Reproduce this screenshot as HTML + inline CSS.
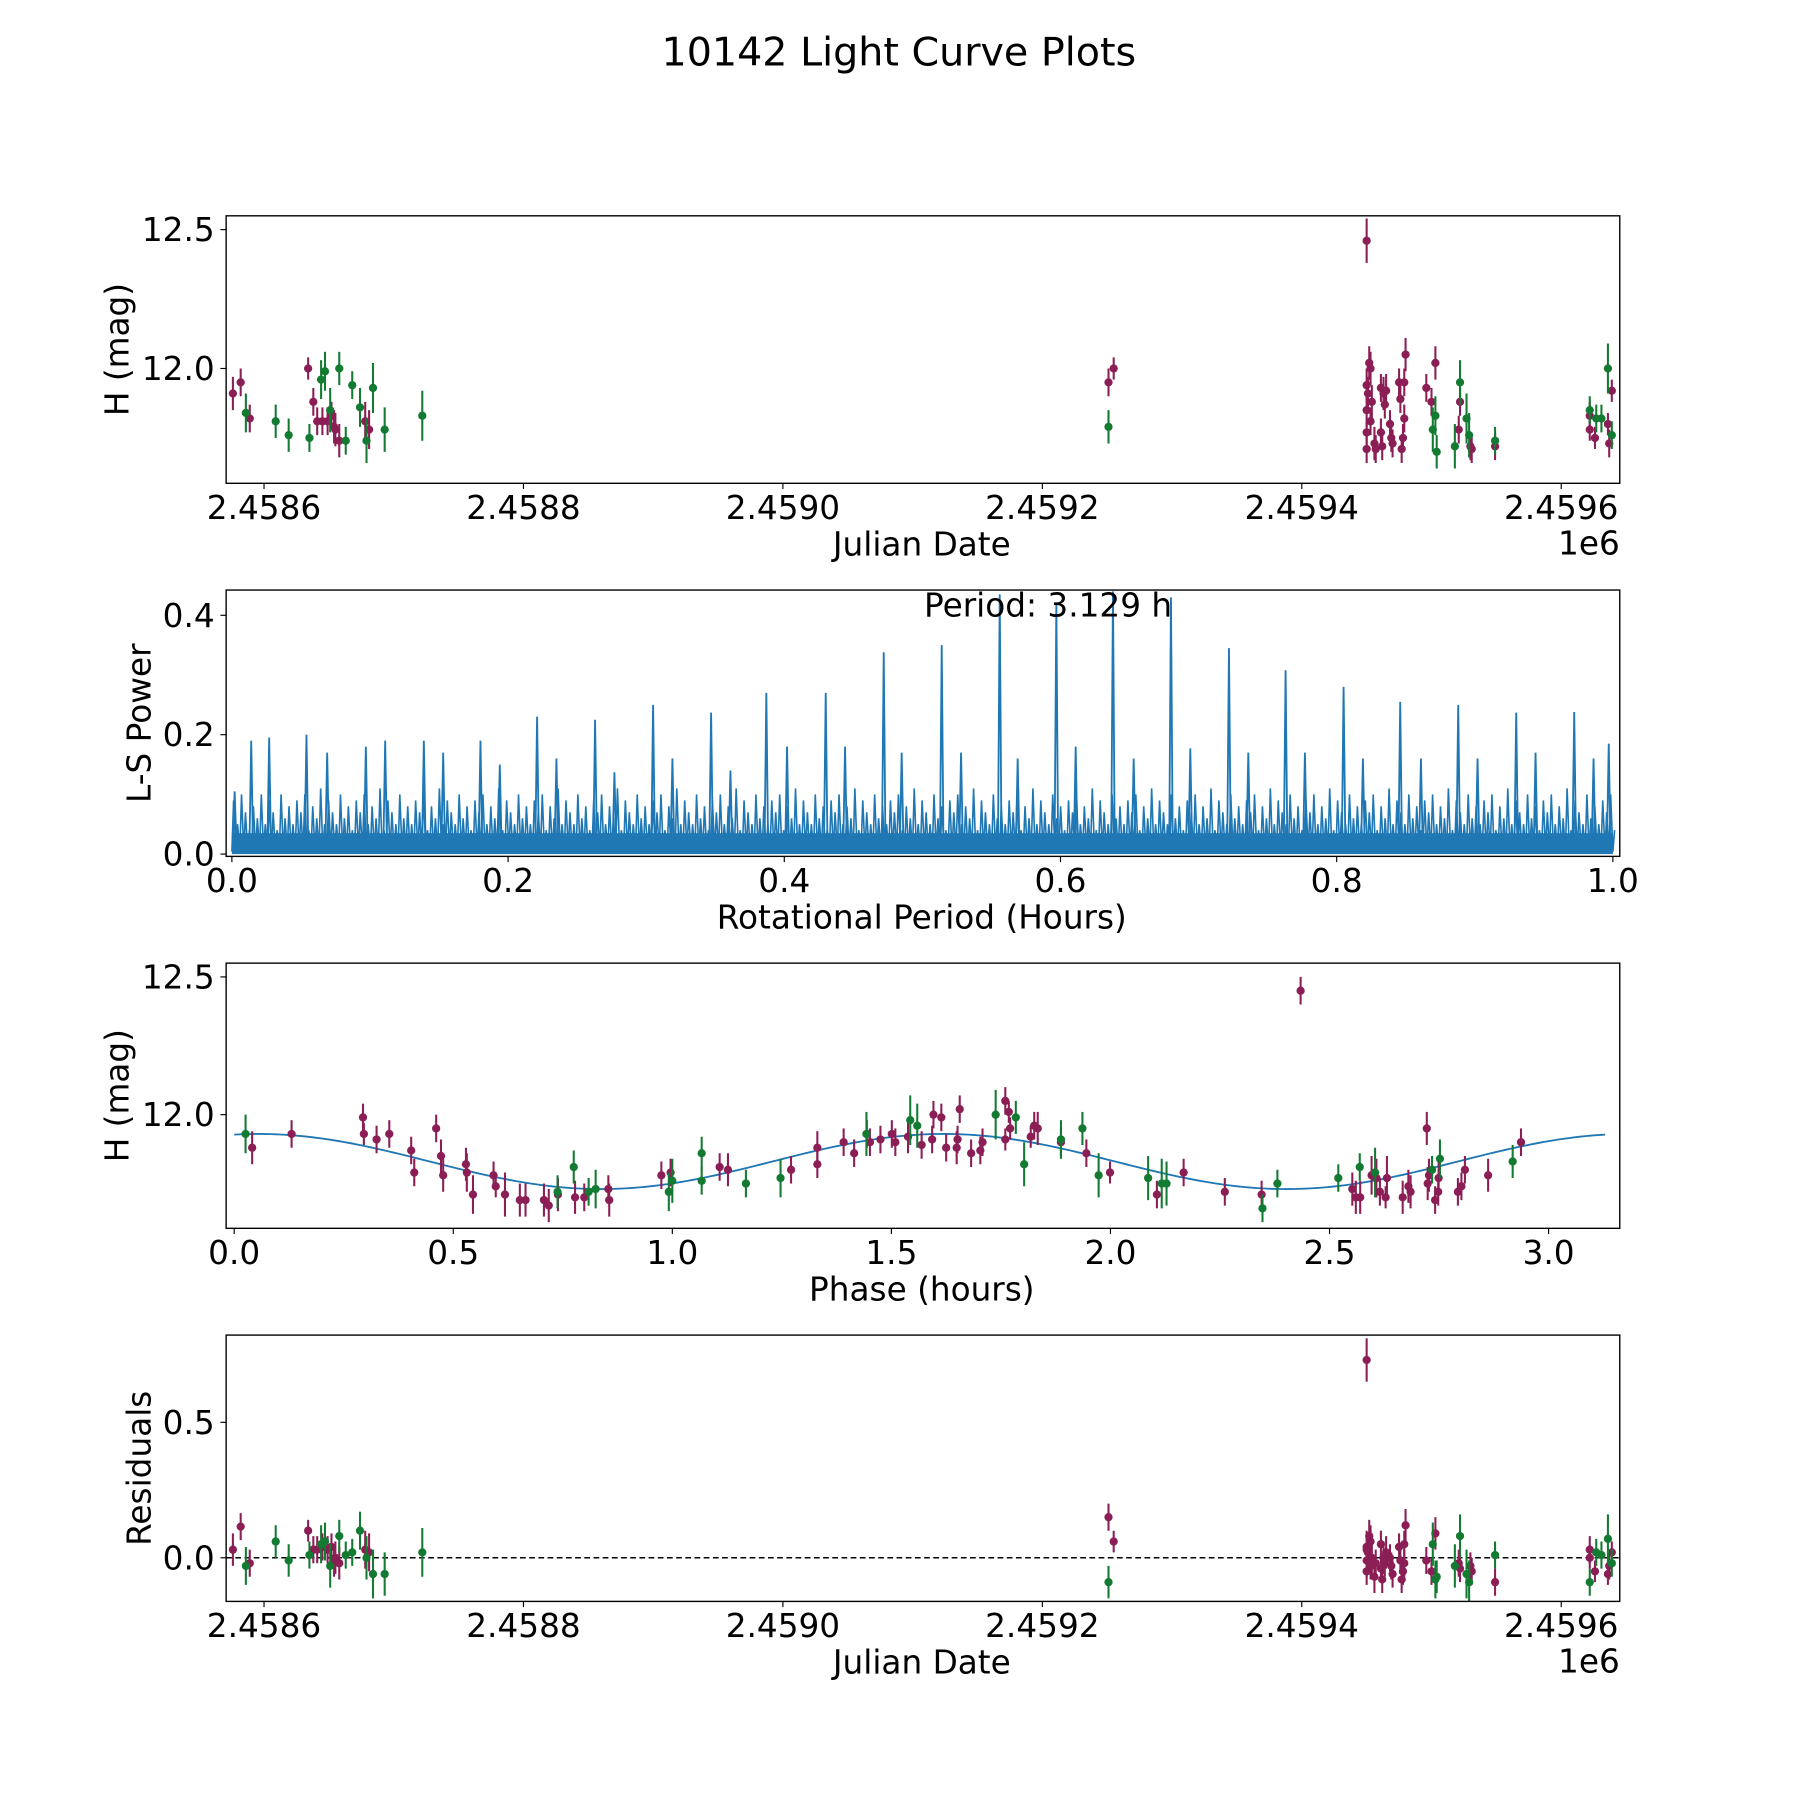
<!DOCTYPE html>
<html><head><meta charset="utf-8"><style>
html,body{margin:0;padding:0;background:#fff;}
svg{display:block;font-family:"DejaVu Sans","Liberation Sans",sans-serif;}
</style></head><body>
<svg id="fig" width="1800" height="1800" viewBox="0 0 1568 1568" xmlns="http://www.w3.org/2000/svg">
<rect width="1568" height="1568" fill="#fff"/>
<text x="783" y="57" font-size="34.5" text-anchor="middle">10142 Light Curve Plots</text>
<g id="g1"></g>
<g id="g2"></g>
<g id="g3"></g>
<g id="g4"></g>
</svg>
<script>
const MAROON="#8a1e55", GREEN="#137a32", BLUE="#1f77b4";
// ---- Panel 1 data: JD offsets (days from 2458600) and mag
const p1Maroon=[[-24,11.91],[-18,11.95],[-11,11.82],[34,12.0],[38,11.88],[41,11.81],[45,11.81],[49,11.81],[52,11.83],[54,11.79],[55,11.78],[58,11.74],[78,11.81],[81,11.78],[651,11.95],[655,12.0],
[850,12.46],[852,12.02],[853,12.0],[850,11.94],[851,11.91],[854,11.88],[850,11.85],[853,11.81],[850,11.77],[856,11.73],[850,11.71],[857,11.71],[861,11.93],[863,11.91],[861,11.77],[862,11.72],[865,11.92],[864,11.87],[869,11.75],[870,11.73],[868,11.8],[875,11.95],[876,11.89],[879,11.95],[880,12.05],[878,11.75],[877,11.71],[879,11.82],[896,11.93],[900,11.88],[903,12.02],[921,11.78],[922,11.88],[931,11.71],[930,11.72],[949,11.72],[1022,11.83],[1022,11.78],[1026,11.75],[1036,11.8],[1039,11.92],[1037,11.73]];
const p1Green=[[-14,11.84],[9,11.81],[19,11.76],[35,11.75],[44,11.96],[47,11.99],[51,11.85],[58,12.0],[63,11.74],[68,11.94],[74,11.86],[79,11.74],[84,11.93],[93,11.78],[122,11.83],[651,11.79],[901,11.78],[903,11.83],[904,11.7],[918,11.72],[922,11.95],[927,11.82],[929,11.76],[949,11.74],[1022,11.85],[1027,11.82],[1031,11.82],[1036,12.0],[1039,11.76]];
const p1MErr=[0.06,0.05,0.05,0.04,0.05,0.05,0.05,0.05,0.05,0.06,0.06,0.06,0.07,0.07,0.05,0.04,0.08,0.06,0.06,0.06,0.06,0.06,0.06,0.05,0.05,0.06,0.05,0.05,0.05,0.06,0.05,0.05,0.06,0.05,0.05,0.05,0.05,0.05,0.05,0.05,0.06,0.05,0.05,0.05,0.05,0.05,0.06,0.05,0.05,0.05,0.05,0.05,0.05,0.04,0.04,0.04,0.04,0.05];
const p1GErr=[0.07,0.06,0.06,0.05,0.07,0.07,0.08,0.06,0.05,0.05,0.07,0.08,0.09,0.08,0.09,0.06,0.08,0.07,0.06,0.08,0.08,0.09,0.08,0.05,0.05,0.05,0.05,0.09,0.05];
// ---- Panel 2: periodogram
const lsPeakPeriods=[0.002,0.014,0.027,0.054,0.069,0.097,0.111,0.139,0.153,0.180,0.194,0.221,0.235,0.263,0.277,0.305,0.319,0.347,0.361,0.387,0.402,0.430,0.444,0.472,0.485,0.514,0.528,0.556,0.569,0.597,0.611,0.638,0.653,0.680,0.694,0.722,0.736,0.763,0.777,0.805,0.819,0.846,0.861,0.888,0.902,0.930,0.944,0.972,0.986,0.997];
const lsPeakPowers=[0.105,0.19,0.195,0.2,0.17,0.18,0.19,0.19,0.17,0.19,0.15,0.23,0.16,0.225,0.137,0.25,0.16,0.237,0.14,0.27,0.18,0.27,0.18,0.338,0.17,0.35,0.17,0.435,0.16,0.42,0.18,0.44,0.16,0.43,0.177,0.345,0.17,0.308,0.17,0.28,0.16,0.255,0.16,0.25,0.16,0.237,0.17,0.238,0.16,0.185];
const lsNoise=[0.09,0.05,0.1,0.07,0.04,0.08,0.06,0.1,0.05,0.09,0.07,0.04,0.1,0.06,0.08,0.05,0.09,0.07,0.1,0.04,0.08,0.06,0.11,0.05,0.09,0.07,0.05,0.1,0.06,0.08,0.04,0.09,0.07,0.1,0.05,0.08,0.06,0.11,0.04,0.09,0.07,0.05,0.1,0.06,0.08,0.05,0.09,0.07,0.1,0.04,
0.08,0.06,0.11,0.05,0.09,0.07,0.05,0.1,0.06,0.08,0.04,0.09,0.07,0.1,0.05,0.08,0.06,0.11,0.04,0.09,0.07,0.05,0.1,0.06,0.08,0.05,0.09,0.07,0.1,0.04,0.08,0.06,0.11,0.05,0.09,0.07,0.05,0.1,0.06,0.08,0.04,0.09,0.07,0.1,0.05,0.08,0.06,0.11,0.04,0.09,
0.07,0.05,0.1,0.06,0.08,0.05,0.09,0.07,0.1,0.04,0.08,0.06,0.11,0.05,0.09,0.07,0.05,0.1,0.06,0.08,0.04,0.09,0.07,0.1,0.05,0.08,0.06,0.11,0.04,0.09,0.07,0.05,0.1,0.06,0.08,0.05,0.09,0.07,0.1,0.04,0.08,0.06,0.11,0.05,0.09,0.07,0.05,0.1,0.06,0.08,
0.04,0.09,0.07,0.1,0.05,0.08,0.06,0.11,0.04,0.09,0.07,0.05,0.1,0.06,0.08,0.05,0.09,0.07,0.1,0.04,0.08,0.06,0.11,0.05,0.09,0.07,0.05,0.1,0.06,0.08,0.04,0.09,0.07,0.1,0.05,0.08,0.06,0.11,0.04,0.09,0.07,0.05,0.1,0.06,0.08,0.05,0.09,0.07,0.1,0.04,
0.08,0.06,0.11,0.05,0.09,0.07,0.05,0.1,0.06,0.08,0.04,0.09,0.07,0.1,0.05,0.08,0.06,0.11,0.04,0.09,0.07,0.05,0.1,0.06,0.08,0.05,0.09,0.07,0.1,0.04,0.08,0.06,0.11,0.05,0.09,0.07,0.05,0.1,0.06,0.08,0.04,0.09,0.07,0.1,0.05,0.08,0.06,0.11,0.04,0.09,
0.07,0.05,0.1,0.06,0.08,0.05,0.09,0.07,0.1,0.04,0.08,0.06,0.11,0.05,0.09,0.07,0.05,0.1,0.06,0.08,0.04,0.09,0.07,0.1,0.05,0.08,0.06,0.11,0.04,0.09,0.07,0.05,0.1,0.06,0.08,0.05,0.09,0.07,0.1,0.04,0.08,0.06,0.11,0.05,0.09,0.07,0.05,0.1,0.06,0.08,
0.04,0.09,0.07,0.1,0.05,0.08,0.06,0.11,0.04,0.09,0.07,0.05,0.1,0.06,0.08,0.05,0.09,0.07,0.1,0.04,0.08,0.06,0.11,0.05,0.09,0.07,0.05,0.1,0.06,0.08,0.04,0.09,0.07,0.1,0.05,0.08,0.06,0.11,0.04,0.09,0.07,0.05,0.1,0.06,0.08,0.05,0.09,0.07,0.1,0.04];
// ---- Panel 3: phase-folded
const p3Maroon=[[0.041,11.88],[0.131,11.93],[0.294,11.99],[0.296,11.93],[0.325,11.91],[0.354,11.93],[0.404,11.87],[0.411,11.79],[0.461,11.95],[0.472,11.85],[0.477,11.78],[0.529,11.82],[0.531,11.79],[0.545,11.71],[0.592,11.78],[0.597,11.74],[0.618,11.71],[0.652,11.69],[0.665,11.69],[0.707,11.69],[0.718,11.67],[0.739,11.71],[0.778,11.70],[0.799,11.70],[0.854,11.73],[0.856,11.69],[0.975,11.78],[0.996,11.79],[1.108,11.81],[1.127,11.80],[1.271,11.80],[1.331,11.82],[1.331,11.88],[1.391,11.90],[1.415,11.86],[1.444,11.93],[1.451,11.90],[1.475,11.91],[1.501,11.93],[1.509,11.90],[1.538,11.92],[1.569,11.89],[1.593,11.91],[1.596,12.0],[1.614,11.99],[1.625,11.88],[1.649,11.88],[1.651,11.91],[1.656,12.02],[1.682,11.86],[1.703,11.87],[1.708,11.90],[1.760,12.05],[1.760,11.91],[1.768,12.01],[1.771,11.95],[1.818,11.92],[1.826,11.96],[1.834,11.95],[1.887,11.90],[1.945,11.86],[1.999,11.79],[2.106,11.71],[2.167,11.79],[2.261,11.72],[2.345,11.71],[2.434,12.45],[2.552,11.73],[2.560,11.70],[2.570,11.70],[2.596,11.78],[2.607,11.77],[2.615,11.72],[2.628,11.70],[2.631,11.77],[2.667,11.70],[2.680,11.74],[2.685,11.72],[2.722,11.95],[2.724,11.75],[2.727,11.78],[2.741,11.69],[2.748,11.72],[2.749,11.77],[2.793,11.72],[2.801,11.74],[2.809,11.80],[2.862,11.78],[2.937,11.90]];
const p3Green=[[0.026,11.93],[0.738,11.72],[0.775,11.81],[0.809,11.72],[0.825,11.73],[0.992,11.72],[1.000,11.76],[1.067,11.86],[1.067,11.76],[1.168,11.75],[1.247,11.77],[1.443,11.93],[1.543,11.98],[1.559,11.96],[1.738,12.0],[1.784,11.99],[1.803,11.82],[1.887,11.91],[1.936,11.95],[1.973,11.78],[2.086,11.77],[2.117,11.75],[2.128,11.75],[2.347,11.66],[2.381,11.75],[2.520,11.77],[2.569,11.81],[2.604,11.79],[2.734,11.80],[2.752,11.84],[2.918,11.83]];
const p3MErr=p1MErr.concat(p1MErr).slice(0,p3Maroon.length);
const p3GErr=p1GErr.concat(p1GErr).slice(0,p3Green.length);
const fitParams=[11.83,0.10,1.5645,0.055]; // mean, amplitude, harmonic period (h), peak phase (h)
const fitRange=[0,3.129];
// ---- Panel 4: residuals
const p4Maroon=[[-24,0.03],[-18,0.115],[-11,-0.02],[34,0.10],[38,0.03],[41,0.03],[45,0.04],[49,0.03],[52,0.04],[54,-0.01],[55,0.0],[58,-0.02],[78,0.03],[81,0.02],[651,0.15],[655,0.06],
[850,0.73],[852,0.08],[853,0.06],[850,0.04],[851,0.02],[854,0.0],[850,-0.01],[853,-0.03],[850,-0.05],[856,-0.07],[850,0.03],[857,-0.02],[861,0.05],[863,0.0],[861,-0.04],[862,-0.08],[865,0.02],[864,-0.02],[869,-0.03],[870,-0.06],[868,0.0],[875,0.04],[876,-0.01],[879,0.05],[880,0.12],[878,-0.05],[877,-0.08],[879,-0.02],[896,-0.01],[900,-0.05],[903,0.09],[921,-0.02],[922,-0.04],[931,-0.05],[930,-0.03],[949,-0.09],[1022,0.03],[1022,0.0],[1026,-0.05],[1036,-0.06],[1039,0.02],[1037,-0.03]];
const p4Green=[[-14,-0.03],[9,0.06],[19,-0.01],[35,0.01],[44,0.05],[47,0.06],[51,-0.03],[58,0.08],[63,0.01],[68,0.02],[74,0.10],[79,0.0],[84,-0.06],[93,-0.06],[122,0.02],[651,-0.09],[901,0.05],[903,-0.08],[904,-0.07],[918,-0.03],[922,0.08],[927,-0.06],[929,-0.09],[949,0.01],[1022,-0.09],[1027,0.02],[1031,0.01],[1036,0.07],[1039,-0.02]];
const p4MErr=p1MErr, p4GErr=p1GErr;

// ---- axis ticks
const jdTicks=[0,200,400,600,800,1000], jdTickLabels=["2.4586","2.4588","2.4590","2.4592","2.4594","2.4596"];
const magTicks=[12.0,12.5], magTickLabels=["12.0","12.5"];
const lsXTicks=[0,0.2,0.4,0.6,0.8,1.0], lsXTickLabels=["0.0","0.2","0.4","0.6","0.8","1.0"];
const lsYTicks=[0,0.2,0.4], lsYTickLabels=["0.0","0.2","0.4"];
const phTicks=[0,0.5,1,1.5,2,2.5,3], phTickLabels=["0.0","0.5","1.0","1.5","2.0","2.5","3.0"];
const resTicks=[0,0.5], resTickLabels=["0.0","0.5"];

const NS="http://www.w3.org/2000/svg";
const FS=28.5;
function mk(parent,tag,attrs,txt){const e=document.createElementNS(NS,tag);for(const k in attrs)e.setAttribute(k,attrs[k]);if(txt!==undefined)e.textContent=txt;parent.appendChild(e);return e;}
function lin(d0,d1,r0,r1){return v=>r0+(v-d0)*(r1-r0)/(d1-d0);}
const L=197,R=1411;
function frame(g,top,bot,sx,sy,xt,xl,yt,yl,xlabel,ylabel,ylx,offset){
  const fr=mk(g,'rect',{x:L,y:top,width:R-L,height:bot-top,fill:'none',stroke:'#000','stroke-width':1.2});
  
  
  xt.forEach((v,i)=>{const x=sx(v);
    const t=mk(g,'line',{x1:x,x2:x,y1:bot,y2:bot+5,stroke:'#000','stroke-width':1});
    
    
    const tx=mk(g,'text',{x:x,y:bot+31,'font-size':FS,'text-anchor':'middle'},xl[i]);
    
    });
  yt.forEach((v,i)=>{const y=sy(v);
    const t=mk(g,'line',{x1:L-5,x2:L,y1:y,y2:y,stroke:'#000','stroke-width':1});
    
    
    const tx=mk(g,'text',{x:L-10,y:y+10,'font-size':FS,'text-anchor':'end'},yl[i]);
    
    });
  const xa=mk(g,'text',{x:803,y:bot+63,'font-size':FS,'text-anchor':'middle'},xlabel);
  
  
  const ya=mk(g,'text',{x:0,y:0,'font-size':FS,'text-anchor':'middle',transform:`translate(${ylx},${(top+bot)/2}) rotate(-90)`},ylabel);
  
  
  if(offset){const o=mk(g,'text',{x:R,y:bot+62,'font-size':FS,'text-anchor':'end'},offset);
    
    }
}
function scatter(g,pts,errs,col,sx,sy,name){
  pts.forEach((p,i)=>{const x=sx(p[0]),y=sy(p[1]),e=errs[i%errs.length]||0.05;
    const b=mk(g,'line',{x1:x,x2:x,y1:sy(p[1]-e),y2:sy(p[1]+e),stroke:col,'stroke-width':1.8});
    
    
    const c=mk(g,'circle',{cx:x,cy:y,r:3.6,fill:col});
    
    });
}
function clip(g,id,top,bot){const d=mk(g,'clipPath',{id:id});mk(d,'rect',{x:L,y:top,width:R-L,height:bot-top});return `url(#${id})`;}

// Panel 1
(function(){const g=document.getElementById('g1');
 const sx=lin(0,200,230,456), sy=lin(12.0,12.5,321,200);
 const cp=clip(g,'c1',188,421); const d=mk(g,'g',{'clip-path':cp});
 scatter(d,p1Maroon,p1MErr,MAROON,sx,sy,'data-point-maroon');
 scatter(d,p1Green,p1GErr,GREEN,sx,sy,'data-point-green');
 frame(g,188,421,sx,sy,jdTicks,jdTickLabels,magTicks,magTickLabels,'Julian Date','H (mag)',112,'1e6');})();
// Panel 2
(function(){const g=document.getElementById('g2');
 const sx=lin(0,1,202,1405), sy=lin(0,0.4,744,536);
 const cp=clip(g,'c2',514,746); const d=mk(g,'g',{'clip-path':cp});
 let pts=[];const n=lsNoise.length;
 for(let i=0;i<n;i++){const f=i/(n-1);pts.push(sx(f)+','+sy(0.004));pts.push((sx(f)+1.5)+','+sy(lsNoise[i]));}
 const nl=mk(d,'polyline',{points:pts.join(' '),fill:'none',stroke:BLUE,'stroke-width':1.4});
 
 
 mk(d,'rect',{x:sx(0),y:sy(0.035),width:sx(1)-sx(0),height:sy(0)-sy(0.035),fill:BLUE});
 lsPeakPeriods.forEach((p,i)=>{const x=sx(p);
  const pk=mk(d,'polyline',{points:`${x-1.5},${sy(0.02)} ${x},${sy(lsPeakPowers[i])} ${x+1.5},${sy(0.02)}`,fill:'none',stroke:BLUE,'stroke-width':1.6});
  
  });
 const t=mk(g,'text',{x:913,y:537,'font-size':FS,'text-anchor':'middle'},'Period: 3.129 h');
 
 
 frame(g,514,746,sx,sy,lsXTicks,lsXTickLabels,lsYTicks,lsYTickLabels,'Rotational Period (Hours)','L-S Power',131);})();
// Panel 3
(function(){const g=document.getElementById('g3');
 const sx=lin(0,3,204,1349), sy=lin(12.0,12.5,971,851);
 const cp=clip(g,'c3',839,1070); const d=mk(g,'g',{'clip-path':cp});
 let pts=[];for(let i=0;i<=300;i++){const ph=fitRange[0]+(fitRange[1]-fitRange[0])*i/300;
  const m=fitParams[0]+fitParams[1]*Math.cos(2*Math.PI*(ph-fitParams[3])/fitParams[2]);pts.push(sx(ph)+','+sy(m));}
 const c=mk(d,'polyline',{points:pts.join(' '),fill:'none',stroke:BLUE,'stroke-width':1.6});
 
 
 scatter(d,p3Maroon,p3MErr,MAROON,sx,sy,'phase-point-maroon');
 scatter(d,p3Green,p3GErr,GREEN,sx,sy,'phase-point-green');
 frame(g,839,1070,sx,sy,phTicks,phTickLabels,magTicks,magTickLabels,'Phase (hours)','H (mag)',112);})();
// Panel 4
(function(){const g=document.getElementById('g4');
 const sx=lin(0,200,230,456), sy=lin(0,0.5,1357,1239);
 const cp=clip(g,'c4',1163,1395); const d=mk(g,'g',{'clip-path':cp});
 const z=mk(d,'line',{x1:L,x2:R,y1:sy(0),y2:sy(0),stroke:'#000','stroke-width':1.3,'stroke-dasharray':'5,3'});
 
 
 scatter(d,p4Maroon,p4MErr,MAROON,sx,sy,'residual-point-maroon');
 scatter(d,p4Green,p4GErr,GREEN,sx,sy,'residual-point-green');
 frame(g,1163,1395,sx,sy,jdTicks,jdTickLabels,resTicks,resTickLabels,'Julian Date','Residuals',131,'1e6');})();
</script>
</body></html>
